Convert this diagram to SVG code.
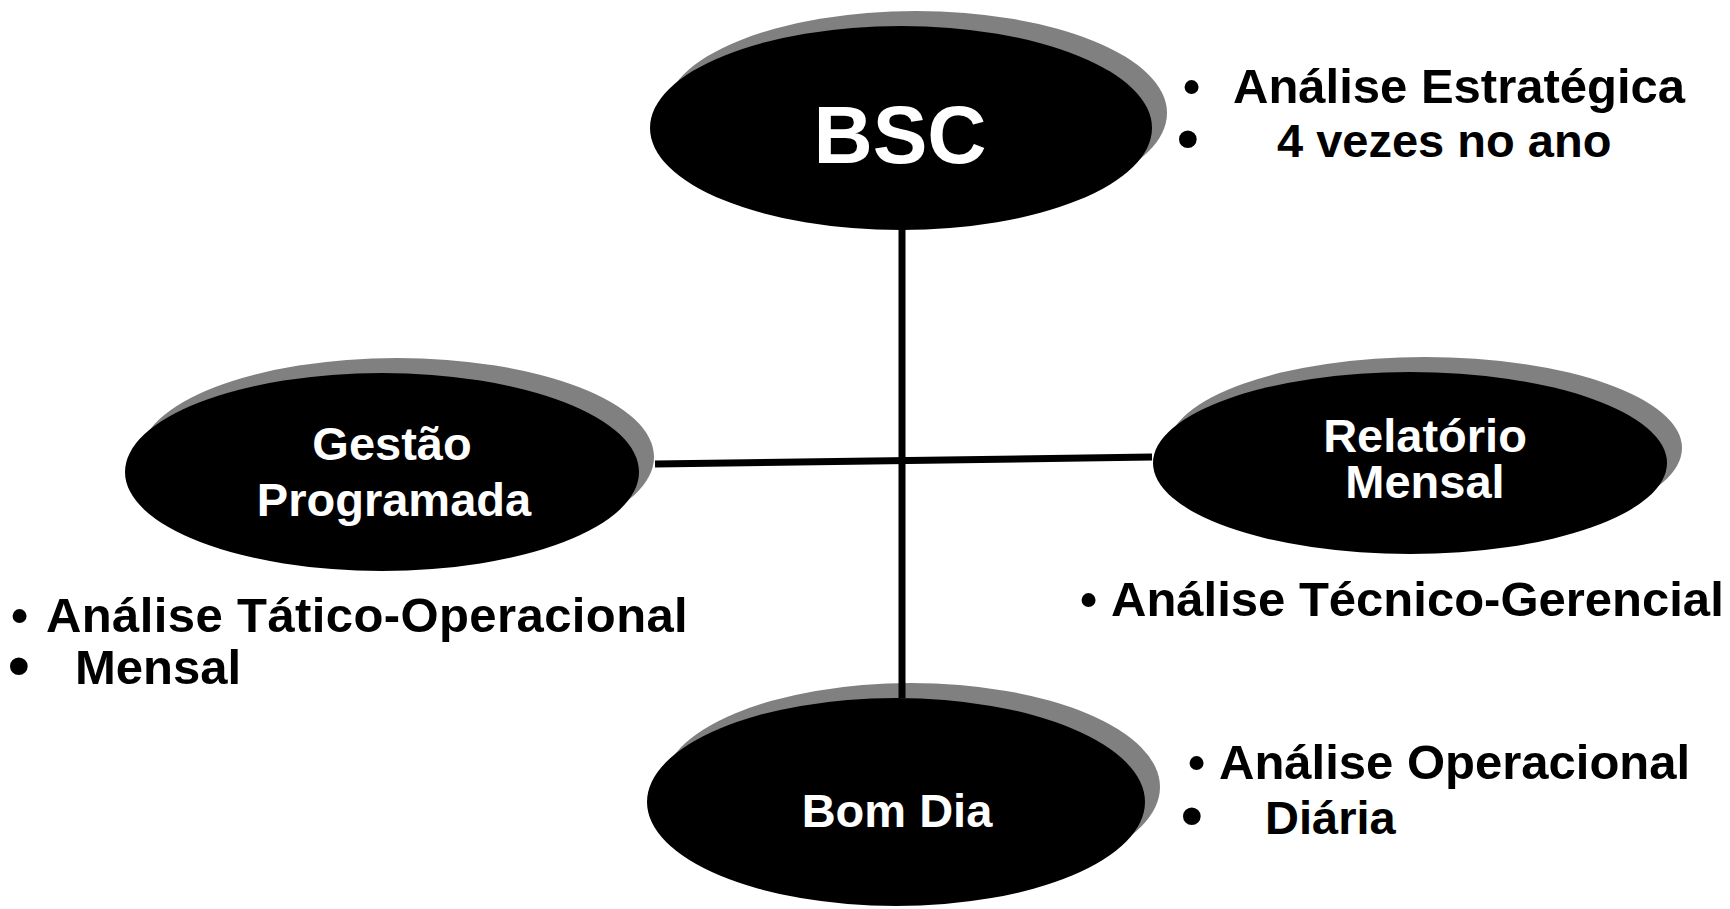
<svg xmlns="http://www.w3.org/2000/svg" width="1730" height="909" viewBox="0 0 1730 909">
<style>
.bg{fill:#ffffff}
.shadow{fill:#808080}
.body{fill:#000000}
.nt{fill:#ffffff;font-family:"Liberation Sans",Arial,sans-serif;font-weight:bold;text-anchor:middle}
.at{fill:#000000;font-family:"Liberation Sans",Arial,sans-serif;font-weight:bold;font-size:49px}
.l2{font-size:47px}
.bs{font-size:49px}
.bb{font-size:62px}
.conn{stroke:#000000;stroke-width:7;fill:none}
</style>
<rect class="bg" x="0" y="0" width="1730" height="909"/>
<g id="node-bsc">
<ellipse class="shadow" cx="916" cy="113" rx="251" ry="102"/>
<ellipse class="body" cx="901" cy="128" rx="251" ry="102"/>
<text class="nt" x="900" y="163" font-size="82">BSC</text>
</g>
<g id="node-gestao">
<ellipse class="shadow" cx="397" cy="457" rx="257" ry="99"/>
<ellipse class="body" cx="382" cy="472" rx="257" ry="99"/>
<text class="nt" x="392" y="460" font-size="47">Gestão</text>
<text class="nt" x="394" y="516" font-size="47">Programada</text>
</g>
<g id="node-relatorio">
<ellipse class="shadow" cx="1425" cy="448" rx="257" ry="91"/>
<ellipse class="body" cx="1410" cy="463" rx="257" ry="91"/>
<text class="nt" x="1425" y="452" font-size="47">Relatório</text>
<text class="nt" x="1425" y="498" font-size="47">Mensal</text>
</g>
<g id="node-bomdia">
<ellipse class="shadow" cx="911" cy="787" rx="249" ry="104"/>
<ellipse class="body" cx="896" cy="802" rx="249" ry="104"/>
<text class="nt" x="897" y="827" font-size="47">Bom Dia</text>
</g>
<g id="connectors">
<line class="conn" x1="902" y1="229" x2="902" y2="698"/>
<line class="conn" x1="655" y1="464" x2="1152" y2="457"/>
</g>
<g id="note-bsc">
<text class="at bs" x="1183" y="103">•</text>
<text class="at" x="1233" y="103">Análise Estratégica</text>
<text class="at bb" x="1177" y="159">•</text>
<text class="at l2" x="1277" y="157">4 vezes no ano</text>
</g>
<g id="note-relatorio">
<text class="at bs" x="1080" y="616">•</text>
<text class="at" x="1111" y="616">Análise Técnico-Gerencial</text>
</g>
<g id="note-gestao">
<text class="at bs" x="11" y="632">•</text>
<text class="at" x="46" y="632" letter-spacing="0.4">Análise Tático-Operacional</text>
<text class="at bb" x="8" y="686">•</text>
<text class="at" x="75" y="684" font-size="44">Mensal</text>
</g>
<g id="note-bomdia">
<text class="at bs" x="1188" y="779">•</text>
<text class="at" x="1219" y="779">Análise Operacional</text>
<text class="at bb" x="1181" y="836">•</text>
<text class="at l2" x="1265" y="834">Diária</text>
</g>
</svg>
